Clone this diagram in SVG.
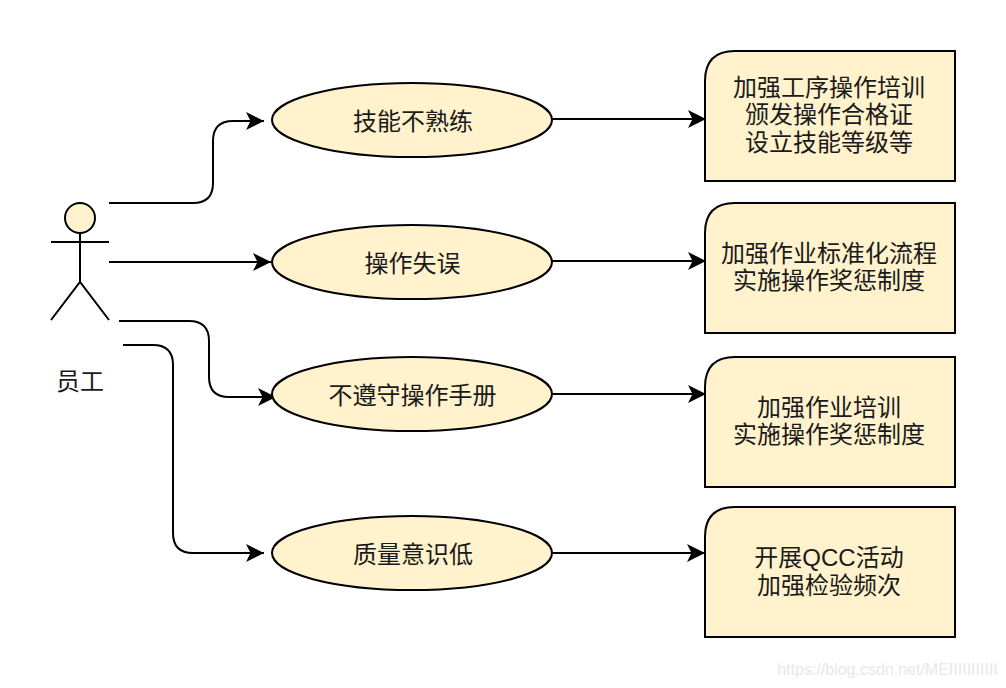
<svg xmlns="http://www.w3.org/2000/svg" width="1006" height="688" viewBox="0 0 1006 688">
<style>
.s{fill:#fff2cc;stroke:#000;stroke-width:2}
.c{fill:none;stroke:#000;stroke-width:2}
text{font-family:"Liberation Sans","Noto Sans CJK SC",sans-serif;font-size:24px;fill:#1a1a1a;text-anchor:middle}
</style>
<defs><marker id="a" markerUnits="userSpaceOnUse" markerWidth="20" markerHeight="20" refX="18" refY="9" orient="auto"><path d="M0 0L18 9L0 18L4.500 9Z" fill="#000"/></marker></defs>
<rect width="1006" height="688" fill="#fff"/>
<g id="connectors">
<path class="c" marker-end="url(#a)" d="M109 203H193Q213 203 213 183V141Q213 121 233 121H264"/>
<path class="c" marker-end="url(#a)" d="M109 262H271"/>
<path class="c" marker-end="url(#a)" d="M119 321H189Q209 321 209 341V377Q209 397 229 397H276"/>
<path class="c" marker-end="url(#a)" d="M123 345H153Q173 345 173 365V533Q173 553 193 553H264"/>
<path class="c" marker-end="url(#a)" d="M552 119H706"/>
<path class="c" marker-end="url(#a)" d="M552 261H706"/>
<path class="c" marker-end="url(#a)" d="M552 394H706"/>
<path class="c" marker-end="url(#a)" d="M552 553H705"/>
</g>
<g id="actor">
<circle class="s" cx="80" cy="218" r="15"/>
<path class="c" d="M80 233V282M51 242H109M51 320L80 282L109 320"/>
<text x="80" y="390">员工</text>
</g>
<g id="e1"><ellipse class="s" cx="412" cy="120" rx="140" ry="37"/><text x="413" y="130">技能不熟练</text></g>
<g id="e2"><ellipse class="s" cx="412" cy="262" rx="140" ry="37"/><text x="412.500" y="272">操作失误</text></g>
<g id="e3"><ellipse class="s" cx="412" cy="394" rx="140" ry="37"/><text x="412.500" y="404">不遵守操作手册</text></g>
<g id="e4"><ellipse class="s" cx="412" cy="553" rx="140" ry="37"/><text x="413" y="563">质量意识低</text></g>
<g id="b1"><path class="s" d="M735 51H955V181H705V81Q705 51 735 51Z"/><text x="829" y="96">加强工序操作培训</text><text x="829" y="123">颁发操作合格证</text><text x="829" y="151">设立技能等级等</text></g>
<g id="b2"><path class="s" d="M735 203H955V333H705V233Q705 203 735 203Z"/><text x="829" y="262">加强作业标准化流程</text><text x="829" y="289">实施操作奖惩制度</text></g>
<g id="b3"><path class="s" d="M735 357H955V487H705V387Q705 357 735 357Z"/><text x="829" y="416">加强作业培训</text><text x="829" y="443">实施操作奖惩制度</text></g>
<g id="b4"><path class="s" d="M735 507H955V637H705V537Q705 507 735 507Z"/><text x="829" y="566">开展QCC活动</text><text x="829" y="594">加强检验频次</text></g>
<text x="887.500" y="675" style="font-size:16px;fill:#e8e8e8">https://blog.csdn.net/MEIIIIIIIIIII</text>
</svg>
